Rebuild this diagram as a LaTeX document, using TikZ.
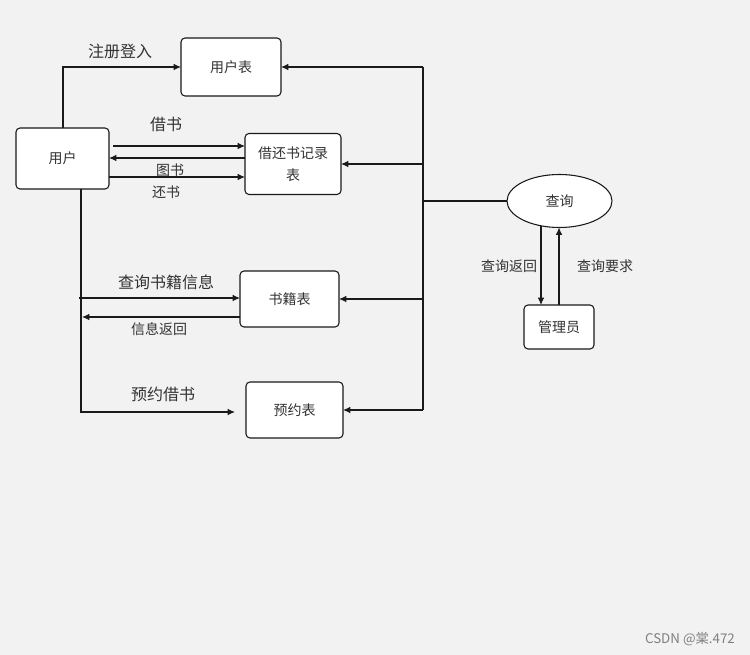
\documentclass[tikz,border=0pt]{standalone}
\usepackage{fontspec}
\setmainfont{Noto Sans CJK SC}
\usetikzlibrary{arrows.meta,shapes.geometric}
\definecolor{bg}{HTML}{F2F2F2}
\definecolor{ink}{HTML}{1A1A1A}
\definecolor{lbl}{HTML}{333333}
\tikzset{
  box/.style={draw=ink, fill=white, rounded corners=3pt, line width=0.8pt, inner sep=0pt, outer sep=0pt, font=\fontsize{10.5pt}{16.5pt}\selectfont, text=lbl, align=center},
  arr/.style={draw=ink, line width=0.8pt, -{Latex[length=5.5pt,width=5pt]}},
  ln/.style={draw=ink, line width=0.8pt},
  big/.style={font=\fontsize{12pt}{14pt}\selectfont, text=lbl, inner sep=0pt},
  small/.style={font=\fontsize{10.5pt}{12pt}\selectfont, text=lbl, inner sep=0pt},
}
\begin{document}
\begin{tikzpicture}[x=0.75pt,y=-0.75pt]
\fill[bg] (0,0) rectangle (750,655);
\useasboundingbox (0,0) rectangle (750,655);

% nodes
\node[box, minimum width=75pt, minimum height=43.5pt] (yhb) at (231,67) {用户表};
\node[box, minimum width=69.75pt, minimum height=45.75pt] (yh) at (62.5,158.5) {用户};
\node[box, minimum width=72pt, minimum height=45.75pt] (jh) at (293,164) {借还书记录\\表};
\node[box, minimum width=74.25pt, minimum height=42pt] (sj) at (289.5,299) {书籍表};
\node[box, minimum width=72.75pt, minimum height=42pt] (yy) at (294.5,410) {预约表};
\node[box, ellipse, rounded corners=0pt, minimum width=78.75pt, minimum height=39.75pt] (cx) at (559.5,201) {查询};
\node[box, minimum width=52.5pt, minimum height=33pt] (gl) at (559,327) {管理员};

% bus coordinates
\coordinate (b1) at (423,67);
\coordinate (b2) at (423,164);
\coordinate (b3) at (423,201);
\coordinate (b4) at (423,299);
\coordinate (b5) at (423,410);

% bus
\draw[ln] (b1) -- (b5);
\draw[draw=ink, line width=1.6pt] (cx.west) -- (b3);
\draw[arr] (b1) -- (yhb.east);
\draw[arr] (b2) -- (jh.east);
\draw[arr] (b4) -- (sj.east);
\draw[arr] (b5) -- (yy.east);

% register
\draw[arr] (63,128) |- (yhb.west);
\node[big] (l1) at (120,51) {注册登入};

% borrow / return
\coordinate (s1) at (113,146);
\draw[arr] (s1) -- (jh.west |- s1);
\node[big] (l2) at (166,124) {借书};
\coordinate (s2) at (245,158);
\draw[arr] (s2) -- (yh.east |- s2);
\node[small] (l3) at (170,170) {图书};
\coordinate (s3) at (109,177);
\draw[arr] (s3) -- (jh.west |- s3);
\node[small] (l4) at (166,192) {还书};

% query books
\coordinate (s4) at (79,298);
\draw[arr] (s4) -- (sj.west |- s4);
\node[big] (l5) at (166,282) {查询书籍信息};
\coordinate (s5) at (82,317);
\draw[arr] (sj.west |- s5) -- (s5);
\node[small] (l6) at (159,329) {信息返回};

% reserve
\coordinate (s6) at (235,412);
\draw[arr] (81,189) |- (s6);
\node[big] (l7) at (163,394) {预约借书};

% admin
\draw[arr] (cx.south -| 541,0) ++(0,-1) -- (541,305);
\draw[arr] (559,305) -- (cx.south -| 559,0);
\node[small] (l8) at (509,266) {查询返回};
\node[small] (l9) at (605,266) {查询要求};

% watermark
\node[font=\fontsize{10pt}{12pt}\selectfont, text=black!50, inner sep=0pt] (wm) at (690,639) {CSDN @棠.472};
\end{tikzpicture}
\end{document}
